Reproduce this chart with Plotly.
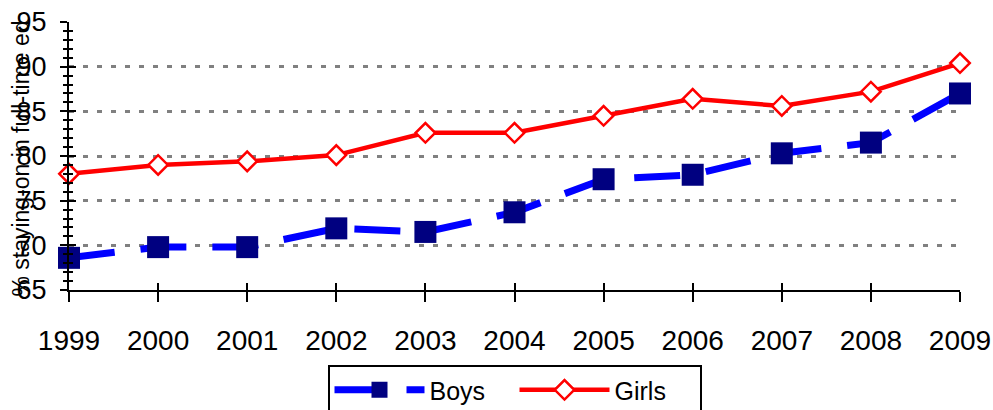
import plotly.graph_objects as go

years = [1999, 2000, 2001, 2002, 2003, 2004, 2005, 2006, 2007, 2008, 2009]
boys = [68.6, 69.8, 69.8, 71.9, 71.5, 73.7, 77.4, 77.9, 80.3, 81.5, 87.0]
girls = [78.0, 79.0, 79.4, 80.1, 82.6, 82.6, 84.5, 86.4, 85.6, 87.2, 90.4]
y_title = "% staying-on in full-time ed"

fig = go.Figure()
fig.add_trace(go.Scatter(
    x=years, y=boys, name="Boys", mode="lines+markers",
    line=dict(color="#0000FF", width=7, dash="46px,26px"),
    marker=dict(symbol="square", size=22, color="#000080", line=dict(width=0)),
    cliponaxis=False,
))
fig.add_trace(go.Scatter(
    x=years, y=girls, name="Girls", mode="lines+markers",
    line=dict(color="#FF0000", width=4.5),
    marker=dict(symbol="diamond", size=15, color="white", line=dict(color="#FF0000", width=2.5)),
    cliponaxis=False,
))
# invisible trace for overlay axes (crossing ticks)
fig.add_trace(go.Scatter(x=years, y=boys, xaxis="x2", yaxis="y2", mode="lines",
                         line=dict(width=0), opacity=0, showlegend=False, hoverinfo="skip"))

fig.update_layout(
    width=993, height=410,
    margin=dict(l=69, r=33, t=22, b=120, autoexpand=False),
    plot_bgcolor="white", paper_bgcolor="white",
    font=dict(family="Liberation Sans, Arial, sans-serif", color="black"),
    showlegend=True,
    legend=dict(
        orientation="h", x=0.5, xanchor="center", y=-0.28, yanchor="top",
        bordercolor="black", borderwidth=2, bgcolor="white",
        font=dict(size=25), itemwidth=90, entrywidth=80, tracegroupgap=0,
    ),
    xaxis=dict(
        range=[1999, 2009], tickmode="array", tickvals=years, ticktext=[str(y) for y in years],
        showline=True, linecolor="black", linewidth=2, showgrid=False, zeroline=False,
        ticks="outside", ticklen=10, tickwidth=2, tickcolor="black",
        tickfont=dict(size=28), ticklabelstandoff=14, automargin=False,
        ticklabeloverflow="allow",
    ),
    yaxis=dict(
        range=[65, 95], tickmode="array", tickvals=[65, 70, 75, 80, 85, 90, 95],
        showline=True, linecolor="black", linewidth=2, zeroline=False,
        showgrid=True, gridcolor="#808080", gridwidth=2.5, griddash="5px,9px",
        ticks="outside", ticklen=7, tickwidth=2, tickcolor="black",
        minor=dict(dtick=1, ticks="outside", ticklen=4, tickwidth=2, tickcolor="black", showgrid=False),
        tickfont=dict(size=27), ticklabelstandoff=8, automargin=False,
        ticklabeloverflow="allow",
    ),
    xaxis2=dict(
        overlaying="x", range=[1999, 2009], tickmode="array", tickvals=years,
        showticklabels=False, showgrid=False, zeroline=False, showline=False,
        ticks="inside", ticklen=7, tickwidth=2, tickcolor="black", side="bottom", automargin=False,
    ),
    yaxis2=dict(
        overlaying="y", range=[65, 95], tickmode="array", tickvals=[65, 70, 75, 80, 85, 90, 95],
        showticklabels=False, showgrid=False, zeroline=False, showline=False,
        ticks="inside", ticklen=7, tickwidth=2, tickcolor="black", side="left", automargin=False,
        minor=dict(dtick=1, ticks="inside", ticklen=4, tickwidth=2, tickcolor="black", showgrid=False),
    ),
    annotations=[dict(
        text=y_title, xref="paper", yref="paper", x=-0.054, y=0.49,
        xanchor="center", yanchor="middle", textangle=-90, showarrow=False,
        font=dict(size=23, color="black"),
    )],
)

page_fix = "document.body.style.margin='0';document.body.style.overflow='hidden';"
fig.write_html("out.html", post_script=page_fix, config={"displayModeBar": False})
